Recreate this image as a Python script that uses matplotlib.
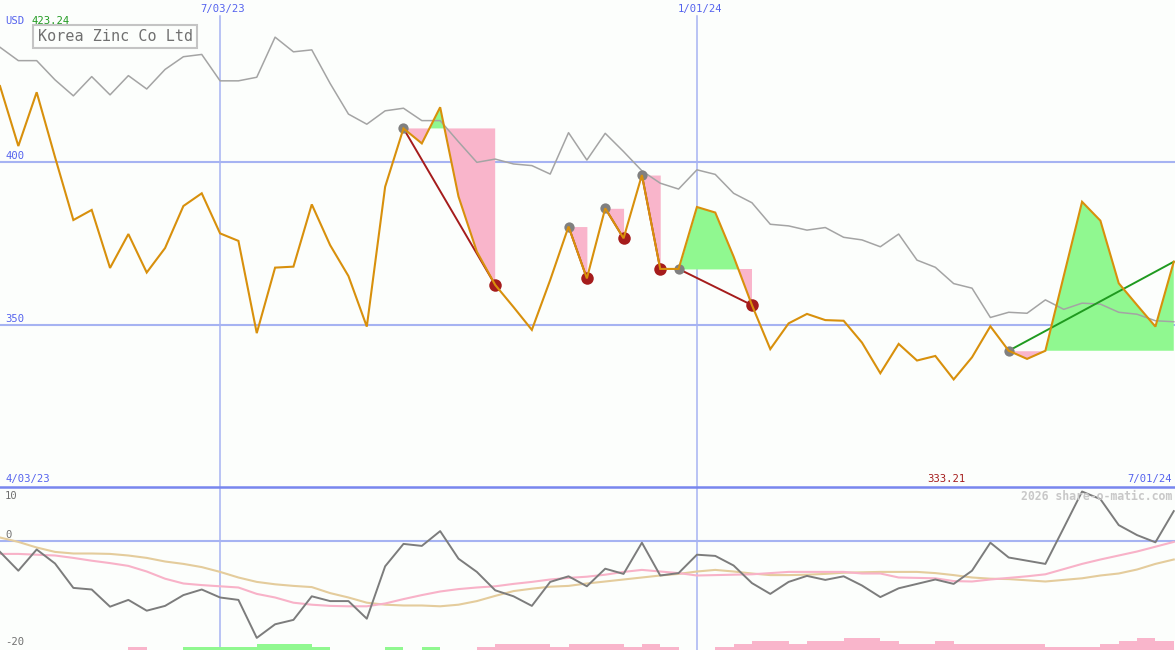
import matplotlib
matplotlib.use('Agg')
import matplotlib.pyplot as plt
import numpy as np

# ---------------- data ----------------
top_dates = ['7/03/23', '1/01/24']
top_date_idx = [12, 38]
start_label = '4/03/23'
end_label = '7/01/24'
title = 'Korea Zinc Co Ltd'
currency = 'USD'
max_label = '423.24'
min_label = '333.21'
min_idx = 52

price = [423.2, 404.8, 421.3, 401.4, 382.1, 385.2, 367.4, 377.8, 366.0, 373.5,
         386.4, 390.3, 378.0, 375.7, 347.4, 367.5, 367.8, 386.9, 374.4, 364.9,
         349.4, 392.3, 410.2, 405.6, 416.7, 389.3, 372.4, 362.2, 355.4, 348.4,
         363.7, 380.1, 364.2, 385.7, 376.5, 395.9, 367.1, 367.1, 386.1, 384.4,
         370.9, 356.0, 342.5, 350.4, 353.3, 351.4, 351.2, 344.5, 335.1, 344.1,
         339.0, 340.4, 333.2, 340.0, 349.5, 342.0, 339.5, 342.0, 364.9, 387.7,
         381.9, 362.7, 356.0, 349.4, 369.3]

avg = [435.1, 431.0, 431.0, 425.1, 420.2, 426.1, 420.5, 426.4, 422.3, 428.3,
       432.2, 432.9, 424.8, 424.8, 425.9, 438.2, 433.7, 434.3, 424.0, 414.6,
       411.5, 415.6, 416.4, 412.6, 412.6, 406.1, 399.8, 400.8, 399.3, 398.8,
       396.2, 408.9, 400.5, 408.7, 403.1, 397.2, 393.4, 391.6, 397.5, 396.1,
       390.3, 387.4, 380.8, 380.3, 379.0, 379.8, 376.8, 376.0, 373.9, 377.8,
       369.8, 367.6, 362.6, 361.2, 352.2, 353.8, 353.5, 357.6, 354.7, 356.6,
       356.3, 353.8, 353.2, 351.2, 350.9]

# swings: (start index, end index)
down_swings = [(22, 27), (31, 32), (33, 34), (35, 36), (37, 41)]
up_swing = (55, 64)

osc = [-2.8, -7.5, -2.2, -5.7, -11.8, -12.2, -16.5, -14.8, -17.5, -16.3,
       -13.6, -12.2, -14.2, -14.8, -24.3, -20.9, -19.8, -13.9, -15.1, -15.1,
       -19.5, -6.4, -0.8, -1.3, 2.4, -4.5, -7.8, -12.4, -13.9, -16.3,
       -10.3, -8.9, -11.4, -7.0, -8.3, -0.5, -8.7, -8.1, -3.5, -3.8,
       -6.2, -10.6, -13.3, -10.3, -8.8, -9.8, -8.9, -11.2, -14.1, -11.9,
       -10.8, -9.7, -10.8, -7.5, -0.5, -4.2, -5.0, -5.8, 3.2, 12.3,
       10.4, 3.9, 1.4, -0.4, 7.4]

sig_fast = [-3.3, -3.3, -3.5, -3.7, -4.3, -5.0, -5.6, -6.3, -7.7, -9.5,
            -10.7, -11.1, -11.4, -11.7, -13.3, -14.2, -15.5, -16.0, -16.3, -16.4,
            -16.4, -15.7, -14.6, -13.6, -12.7, -12.1, -11.7, -11.4, -10.8, -10.3,
            -9.7, -9.3, -9.0, -8.5, -7.8, -7.3, -7.7, -8.1, -8.7, -8.6,
            -8.5, -8.4, -8.1, -7.8, -7.8, -7.8, -7.8, -8.2, -8.2, -9.2,
            -9.3, -9.4, -10.1, -10.2, -9.7, -9.3, -8.9, -8.4, -7.1, -5.8,
            -4.7, -3.7, -2.7, -1.5, -0.3]

sig_slow = [0.8, -0.3, -1.7, -2.8, -3.2, -3.2, -3.3, -3.7, -4.3, -5.2,
            -5.8, -6.6, -7.8, -9.2, -10.3, -10.9, -11.3, -11.6, -13.1, -14.2,
            -15.5, -16.0, -16.2, -16.2, -16.4, -16.0, -15.1, -13.8, -12.6, -12.0,
            -11.5, -11.3, -10.7, -10.2, -9.7, -9.2, -8.7, -8.3, -7.7, -7.3,
            -7.7, -8.2, -8.6, -8.6, -8.5, -8.3, -8.0, -7.9, -7.8, -7.8,
            -7.8, -8.1, -8.6, -9.2, -9.5, -9.6, -9.9, -10.2, -9.8, -9.4,
            -8.7, -8.2, -7.2, -5.8, -4.7]

# histogram strip (per interval): + green, - pink
hist = [0, 0, 0, 0, 0, 0, 0, -1, 0, 0,
        1, 1, 1, 1, 2, 2, 2, 1, 0, 0,
        0, 1, 0, 1, 0, 0, -1, -2, -2, -2,
        -1, -2, -2, -2, -1, -2, -1, 0, 0, -1,
        -2, -3, -3, -2, -3, -3, -4, -4, -3, -2,
        -2, -3, -2, -2, -2, -2, -2, -1, -1, -1,
        -2, -3, -4, -3]

main_ticks = [400, 350]
osc_labels = ['10', '0', '-20']

# ---------------- style ----------------
W, H = 1175, 650
BG = '#fcfefc'
BLUE_TXT = '#5563ee'
GRID = '#a6b3f2'
DIV = '#7886ee'
ORANGE = '#d8900c'
GRAYMA = '#a4a4a4'
PINK = '#f9b5cb'
GREEN = '#90f890'
RED = '#a51c1c'
DKGREEN = '#1f9a1f'
MONO = 'DejaVu Sans Mono'

fig = plt.figure(figsize=(W / 100, H / 100), dpi=100, facecolor=BG)

def fx(px):
    return px / W

def fy(py):
    return 1 - py / H

main_h = 487
ax = fig.add_axes([0, fy(main_h), 1, main_h / H])
ax2 = fig.add_axes([0, 0, 1, (H - main_h) / H])
for a in (ax, ax2):
    a.set_facecolor(BG)
    for s in a.spines.values():
        s.set_visible(False)
    a.set_xticks([])
    a.set_yticks([])

n = len(price)
x = np.arange(n)
xmax = (W) / 18.34
ax.set_xlim(0, xmax)
ax2.set_xlim(0, xmax)
ax.set_ylim(300.2, 449.6)
ax2.set_ylim(-27.33, 13.43)

# grid
for v in main_ticks:
    ax.axhline(v, color=GRID, lw=1.5, zorder=1)
for i in top_date_idx:
    ax.axvline(i, ymin=0, ymax=(main_h - 16) / main_h, color=GRID, lw=1.1, zorder=1)
    ax2.axvline(i, color=GRID, lw=1.1, zorder=1)
ax2.axhline(0, color=GRID, lw=1.5, zorder=1)

# fills for swings
p = np.array(price)
for s, e in down_swings + [up_swing]:
    xs = x[s:e + 1]
    ps = p[s:e + 1]
    L = price[s]
    ax.fill_between(xs, L, ps, where=ps >= L, interpolate=True, color=GREEN, lw=0, zorder=2)
    ax.fill_between(xs, L, ps, where=ps <= L, interpolate=True, color=PINK, lw=0, zorder=2)

ax.plot(x, avg, color=GRAYMA, lw=1.1, zorder=3)

for s, e in down_swings:
    ax.plot([s, e], [price[s], price[e]], color=RED, lw=1.4, zorder=4)
ax.plot([up_swing[0], up_swing[1]], [price[up_swing[0]], price[up_swing[1]]], color=DKGREEN, lw=1.4, zorder=4)

starts = [s for s, e in down_swings] + [up_swing[0]]
ends = [e for s, e in down_swings]
ax.plot(starts, [price[i] for i in starts], 'o', ms=7.4, color='#808080', mec='none', zorder=5)
ax.plot(ends, [price[i] for i in ends], 'o', ms=9, color=RED, mec='none', zorder=5)

ax.plot(x, price, color=ORANGE, lw=1.5, zorder=6, solid_joinstyle='miter')

# lower panel
ybot = -27.33
hv = np.array(hist)
hx = np.arange(len(hist))
ax2.bar(hx[hv > 0], hv[hv > 0] * 0.78, width=1, align='edge', bottom=ybot, color=GREEN, lw=0, zorder=2)
ax2.bar(hx[hv < 0], -hv[hv < 0] * 0.78, width=1, align='edge', bottom=ybot, color=PINK, lw=0, zorder=2)
ax2.plot(x, sig_slow, color='#e4cc9c', lw=1.5, zorder=3)
ax2.plot(x, sig_fast, color='#f8b2c8', lw=1.5, zorder=3)
ax2.plot(x, osc, color='#7c7c7c', lw=1.4, zorder=4)

# divider
fig.add_artist(plt.Line2D([0, 1], [fy(487), fy(487)], color=DIV, lw=1.8, transform=fig.transFigure))

# ---------------- texts ----------------
fs = 7.6
fig.text(fx(5), fy(21), currency, color=BLUE_TXT, fontsize=fs, family=MONO, va='center', ha='left')
fig.text(fx(32), fy(21), max_label, color='#1f9a1f', fontsize=fs, family=MONO, va='center', ha='left')
fig.text(fx(37.5), fy(36.5), title, color='#707070', fontsize=10.9, family=MONO, va='center', ha='left',
         bbox=dict(boxstyle='square,pad=0.28', fc=BG, ec='#c4c4c4', lw=1.5))
for lbl, i in zip(top_dates, top_date_idx):
    fig.text(fx(i * 18.34 + 3), fy(9), lbl, color=BLUE_TXT, fontsize=fs, family=MONO, va='center', ha='center')
fig.text(fx(5), fy(156.3), '400', color=BLUE_TXT, fontsize=fs, family=MONO, va='center', ha='left')
fig.text(fx(5), fy(319.5), '350', color=BLUE_TXT, fontsize=fs, family=MONO, va='center', ha='left')
fig.text(fx(6), fy(478.7), start_label, color=BLUE_TXT, fontsize=fs, family=MONO, va='center', ha='left')
fig.text(fx(1172), fy(478.7), end_label, color=BLUE_TXT, fontsize=fs, family=MONO, va='center', ha='right')
fig.text(fx(min_idx * 18.34 - 7), fy(478.7), min_label, color=RED, fontsize=fs, family=MONO, va='center', ha='center')
fig.text(fx(1172), fy(496), '2026 share-o-matic.com', color='#c8c8c8', fontsize=8.3, family=MONO,
         fontweight='bold', va='center', ha='right')
for lbl, py in zip(osc_labels, [496, 534.7, 642]):
    fig.text(fx(5), fy(py), lbl, color='#707070', fontsize=fs, family=MONO, va='center', ha='left')

fig.savefig('out.png', dpi=100, facecolor=BG)
